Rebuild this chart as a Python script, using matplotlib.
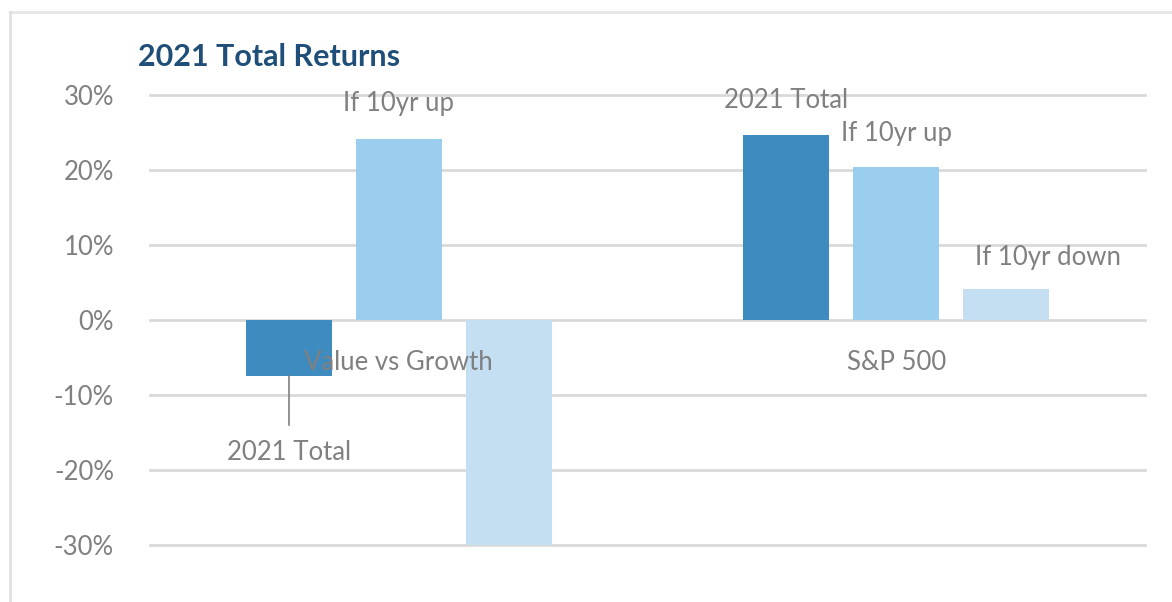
import matplotlib
matplotlib.use("Agg")
import matplotlib.pyplot as plt
from matplotlib.lines import Line2D

plt.rcParams['font.family'] = ['Lato', 'DejaVu Sans']

grupos = ["Value vs Growth", "S&P 500"]
series = ["2021 Total", "If 10yr up", "If 10yr down"]
total_2021 = [-7.5, 24.7]
up_10yr = [24.1, 20.4]
down_10yr = [-30.0, 4.1]
cores = ["#3d8bbf", "#9bcdee", "#c3dff1"]
yticks = [-30, -20, -10, 0, 10, 20, 30]

cinza = "#808080"

fig = plt.figure(figsize=(11.72, 6.02), dpi=100)
ax = fig.add_axes([150 / 1172, 1 - 546 / 602, 995 / 1172, 452 / 602])

passo = 0.221
largura = 0.173
valores = [total_2021, up_10yr, down_10yr]
for k, vals in enumerate(valores):
    xs = [i + (k - 1) * passo for i in range(len(grupos))]
    ax.bar(xs, vals, width=largura, color=cores[k], zorder=2)

ax.set_xlim(-0.5, 1.5)
ax.set_ylim(-30.1, 30.1)
ax.set_yticks(yticks)
ax.set_yticklabels([f"{t}%" for t in yticks])
ax.set_xticks([])
for t in yticks:
    ax.axhline(t, color="#d9d9d9", lw=2, zorder=1, clip_on=False)
for s in ax.spines.values():
    s.set_visible(False)
ax.tick_params(axis='y', length=0, labelsize=18.5, labelcolor=cinza, pad=26)

# rotulos das categorias logo abaixo do zero
for i, g in enumerate(grupos):
    ax.text(i, -5.6, g, ha='center', va='center', fontsize=18.5, color=cinza, zorder=3)

# rotulos dos dados
ax.text(0, up_10yr[0] + 4.8, "If 10yr up", ha='center', va='center', fontsize=18.5, color=cinza)
ax.plot([0 - passo, 0 - passo], [total_2021[0], -14], color=cinza, lw=1.2, zorder=3)
ax.text(0 - passo, -17.6, "2021 Total", ha='center', va='center', fontsize=18.5, color=cinza)
ax.text(1 - passo, total_2021[1] + 4.6, "2021 Total", ha='center', va='center', fontsize=18.5, color=cinza)
ax.text(1, up_10yr[1] + 4.5, "If 10yr up", ha='center', va='center', fontsize=18.5, color=cinza)
ax.text(1 + passo + 0.085, down_10yr[1] + 4.2, "If 10yr down", ha='center', va='center', fontsize=18.5, color=cinza)

fig.text(138 / 1172, 1 - 57 / 602, "2021 Total Returns", ha='left', va='center',
         fontsize=22, fontweight='bold', color="#1f4e79")

# moldura
fig.add_artist(Line2D([10 / 1172, 1], [1 - 12 / 602, 1 - 12 / 602], color="#e6e6e6", lw=2))
fig.add_artist(Line2D([10 / 1172, 10 / 1172], [0, 1 - 12 / 602], color="#e0e0e0", lw=2))

plt.savefig("out.png", dpi=100)
plt.close()
